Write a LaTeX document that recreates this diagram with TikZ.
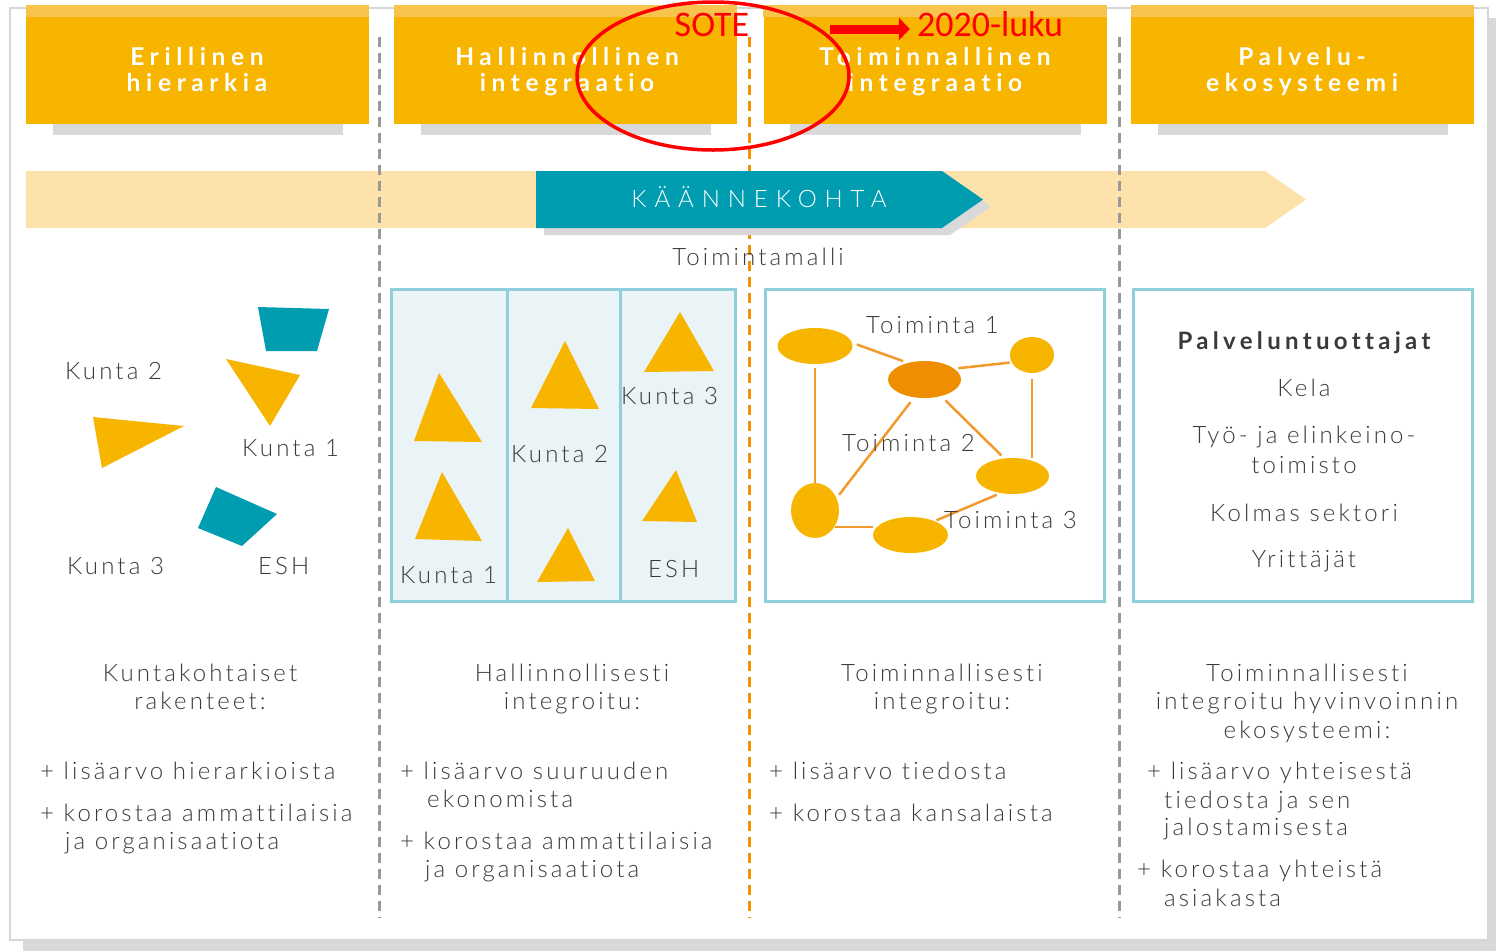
\documentclass[tikz,border=0pt]{standalone}
\usepackage{fontspec}
\setmainfont{Lato}
\newfontfamily\bodyf{Lato Light}[LetterSpace=13,RawFeature=-liga]
\newfontfamily\headf{Lato}[LetterSpace=23,RawFeature=-liga]
\newfontfamily\wideF{Lato Light}[LetterSpace=33,RawFeature=-liga]
\newfontfamily\boldsp{Lato}[LetterSpace=18,RawFeature=-liga]
\newfontfamily\redf{Carlito}
\usetikzlibrary{shapes.geometric,arrows.meta}
\definecolor{hdrY}{HTML}{F7B500}
\definecolor{hdrL}{HTML}{F9C44E}
\definecolor{shd}{HTML}{D9D9D9}
\definecolor{framec}{HTML}{D6D6D6}
\definecolor{peach}{HTML}{FDE3AB}
\definecolor{teal}{HTML}{009CB0}
\definecolor{panelF}{HTML}{EAF4F6}
\definecolor{panelB}{HTML}{8FCFDB}
\definecolor{txtc}{HTML}{3A3A3A}
\definecolor{orgdash}{HTML}{F39200}
\definecolor{conn}{HTML}{F29A2E}
\definecolor{darkO}{HTML}{EE8E00}
\definecolor{dgrey}{HTML}{9A9A9A}
\begin{document}
\begin{tikzpicture}[x=1pt,y=-1pt,
  txt/.style={inner sep=0pt, text=txtc, font=\bodyf\fontsize{24}{28}\selectfont},
  lbl/.style={txt, anchor=base},
  lft/.style={txt, anchor=base west},
  hdrbox/.style={fill=hdrY, minimum width=343pt, minimum height=119pt, inner sep=0pt},
  hdrtxt/.style={anchor=base, inner sep=0pt, text=white, font=\headf\bfseries\fontsize{24.5}{26}\selectfont},
  panel/.style={draw=panelB, line width=3pt, minimum width=#1, minimum height=312pt, inner sep=0pt},
  gdash/.style={draw=dgrey, line width=3pt, dash pattern=on 10pt off 6pt},
  odash/.style={draw=orgdash, line width=3pt, dash pattern=on 10pt off 6pt},
  blob/.style={ellipse, fill=hdrY, inner sep=0pt},
  cline/.style={draw=conn, line width=2.5pt},
  redtxt/.style={anchor=base, inner sep=0pt, text=red, font=\redf\fontsize{36}{40}\selectfont}
]
\useasboundingbox (0,0) rectangle (1496,951);
\fill[white] (0,0) rectangle (1496,951);
% outer frame and shadow
\fill[shd] (23,940) rectangle (1496,951);
\fill[shd] (1488,18) rectangle (1496,951);
\draw[framec, line width=2pt] (10,8) rectangle (1488,940);

% headers
\foreach \cx/\nm in {197.5/h1,565.5/h2,935/h3,1302.5/h4}{
  \node[hdrbox] (\nm) at (\cx,64.5) {};
  \fill[hdrL] (\nm.north west) rectangle ([yshift=-12pt]\nm.north east);
  \fill[shd] ([xshift=27pt]\nm.south west) rectangle ([xshift=-26pt,yshift=-11pt]\nm.south east);
}
\node[hdrtxt] (h1a) at (197,65) {Erillinen};
\node[hdrtxt] (h1b) at (197,91) {hierarkia};
\node[hdrtxt] (h2a) at (567,65) {Hallinnollinen};
\node[hdrtxt] (h2b) at (567,91) {integraatio};
\node[hdrtxt] (h3a) at (935,65) {Toiminnallinen};
\node[hdrtxt] (h3b) at (935,91) {integraatio};
\node[hdrtxt] (h4a) at (1302,65) {Palvelu-};
\node[hdrtxt] (h4b) at (1302,91) {ekosysteemi};

% band
\fill[peach] (26,171) -- (1265,171) -- (1306,199.5) -- (1265,228) -- (26,228) -- cycle;

% dividers
\draw[gdash] (379.5,37) -- (379.5,918);
\draw[odash] (749,37) -- (749,918);
\draw[gdash] (1119,37) -- (1119,918);

% turning point arrow
\fill[shd] (544,178) -- (950,178) -- (991,206.5) -- (950,235) -- (544,235) -- cycle;
\fill[teal] (536,171) -- (942,171) -- (983,199.5) -- (942,228) -- (536,228) -- cycle;
\node[anchor=base, inner sep=0pt, text=white, font=\wideF\fontsize{24}{26}\selectfont] (kk) at (759,207) {KÄÄNNEKOHTA};
\node[lbl] (tm) at (758,265) {Toimintamalli};

% column 1 shapes
\fill[teal] (258,307) -- (329,309) -- (317,351) -- (266,351) -- cycle;
\fill[hdrY] (226,359) -- (300,375) -- (270,426) -- cycle;
\fill[hdrY] (93,417) -- (184,426) -- (102,468) -- cycle;
\fill[teal] (216,487) -- (277,514) -- (242,546) -- (198,528) -- cycle;
\node[lft] (c1k2) at (65,379) {Kunta 2};
\node[lft] (c1k1) at (242,456) {Kunta 1};
\node[lft] (c1k3) at (67,574) {Kunta 3};
\node[lft] (c1e) at (258,574) {ESH};

% column 2 panel
\node[panel=344pt, fill=panelF] (p2) at (563,445) {};
\draw[panelB, line width=3pt] (507,289) -- (507,601);
\draw[panelB, line width=3pt] (620,289) -- (620,601);
\fill[hdrY] (439,373) -- (482,442) -- (414,441) -- cycle;
\fill[hdrY] (442,472) -- (482,541) -- (415,539) -- cycle;
\fill[hdrY] (565,341) -- (599,409) -- (531,408) -- cycle;
\fill[hdrY] (568,528) -- (595,581) -- (537,582) -- cycle;
\fill[hdrY] (680,312) -- (714,371) -- (644,372) -- cycle;
\fill[hdrY] (676,470) -- (697,522) -- (642,521) -- cycle;
\node[lft] (c2k3) at (621,404) {Kunta 3};
\node[lft] (c2k2) at (511,462) {Kunta 2};
\node[lft] (c2k1) at (400,583) {Kunta 1};
\node[lft] (c2e) at (648,577) {ESH};

% column 3 panel
\node[panel=339pt] (p3) at (934.5,445) {};
\node[blob, minimum width=75pt, minimum height=36pt] (A) at (815,346) {};
\node[blob, fill=darkO, minimum width=73pt, minimum height=37pt] (B) at (924.5,379.5) {};
\node[blob, minimum width=44pt, minimum height=36pt] (C) at (1032,355) {};
\node[blob, minimum width=73pt, minimum height=36pt] (D) at (1012.5,476) {};
\node[blob, minimum width=48pt, minimum height=55pt] (E) at (815,510.5) {};
\node[blob, minimum width=75pt, minimum height=36pt] (F) at (910.5,535) {};
\draw[cline, shorten <=5pt, shorten >=5pt] (A.5) -- (B.135);
\draw[cline, shorten <=4pt, shorten >=2pt] (B.20) -- (C.200);
\draw[cline, shorten <=4pt] (A.south) -- (E.north);
\draw[cline, shorten <=6pt] (C.south) -- (C.south |- D.north);
\draw[cline, shorten <=6pt, shorten >=4pt] (B.240) -- (E.30);
\draw[cline, shorten <=6pt, shorten >=4pt] (B.315) -- (D.115);
\draw[cline] (E.-40) -- (E.-40 -| F.west);
\draw[cline, shorten <=2pt, shorten >=4pt] (F.30) -- (D.235);
\node[lft] (t1) at (866,333) {Toiminta 1};
\node[lft] (t2) at (842,451) {Toiminta 2};
\node[lft] (t3) at (944,528) {Toiminta 3};

% column 4 panel
\node[panel=339pt] (p4) at (1302.5,445) {};
\node[anchor=base, inner sep=0pt, text=txtc, font=\boldsp\bfseries\fontsize{24}{28}\selectfont] (pt) at (1304,349) {Palveluntuottajat};
\node[lbl] (kela) at (1304,396) {Kela};
\node[lbl] (te1) at (1304,443) {Työ- ja elinkeino-};
\node[lbl] (te2) at (1304,473) {toimisto};
\node[lbl] (ks) at (1304,521) {Kolmas sektori};
\node[lbl] (yr) at (1304,567) {Yrittäjät};

% bottom texts col 1
\node[lbl] (b1a) at (200,681) {Kuntakohtaiset};
\node[lbl] (b1b) at (200,709) {rakenteet:};
\node[lft] (b1c) at (40,779) {+ lisäarvo hierarkioista};
\node[lft] (b1d) at (40,821) {+ korostaa ammattilaisia};
\node[lft] (b1e) at (65,849) {ja organisaatiota};
% col 2
\node[lbl] (b2a) at (572,681) {Hallinnollisesti};
\node[lbl] (b2b) at (572,709) {integroitu:};
\node[lft] (b2c) at (400,779) {+ lisäarvo suuruuden};
\node[lft] (b2d) at (427,807) {ekonomista};
\node[lft] (b2e) at (400,849) {+ korostaa ammattilaisia};
\node[lft] (b2f) at (425,877) {ja organisaatiota};
% col 3
\node[lbl] (b3a) at (942,681) {Toiminnallisesti};
\node[lbl] (b3b) at (942,709) {integroitu:};
\node[lft] (b3c) at (769,779) {+ lisäarvo tiedosta};
\node[lft] (b3d) at (769,821) {+ korostaa kansalaista};
% col 4
\node[lbl] (b4a) at (1307,681) {Toiminnallisesti};
\node[lbl] (b4b) at (1307,709) {integroitu hyvinvoinnin};
\node[lbl] (b4c) at (1307,738) {ekosysteemi:};
\node[lft] (b4d) at (1147,779) {+ lisäarvo yhteisestä};
\node[lft] (b4e) at (1164,808) {tiedosta ja sen};
\node[lft] (b4f) at (1164,835) {jalostamisesta};
\node[lft] (b4g) at (1137,877) {+ korostaa yhteistä};
\node[lft] (b4h) at (1164,906) {asiakasta};

% red annotations
\node[draw=red, line width=3.5pt, ellipse, minimum width=272pt, minimum height=148pt, inner sep=0pt] (ring) at (713,76) {};
\node[redtxt] (sote) at (712,36) {SOTE};
\node[redtxt] (luku) at (990,36) {2020-luku};
\coordinate (arrS) at (830,29);
\draw[red, line width=9pt, -{Triangle[length=11pt,width=22pt]}] (arrS) -- ([xshift=-7pt]luku.west |- arrS);
\end{tikzpicture}
\end{document}
